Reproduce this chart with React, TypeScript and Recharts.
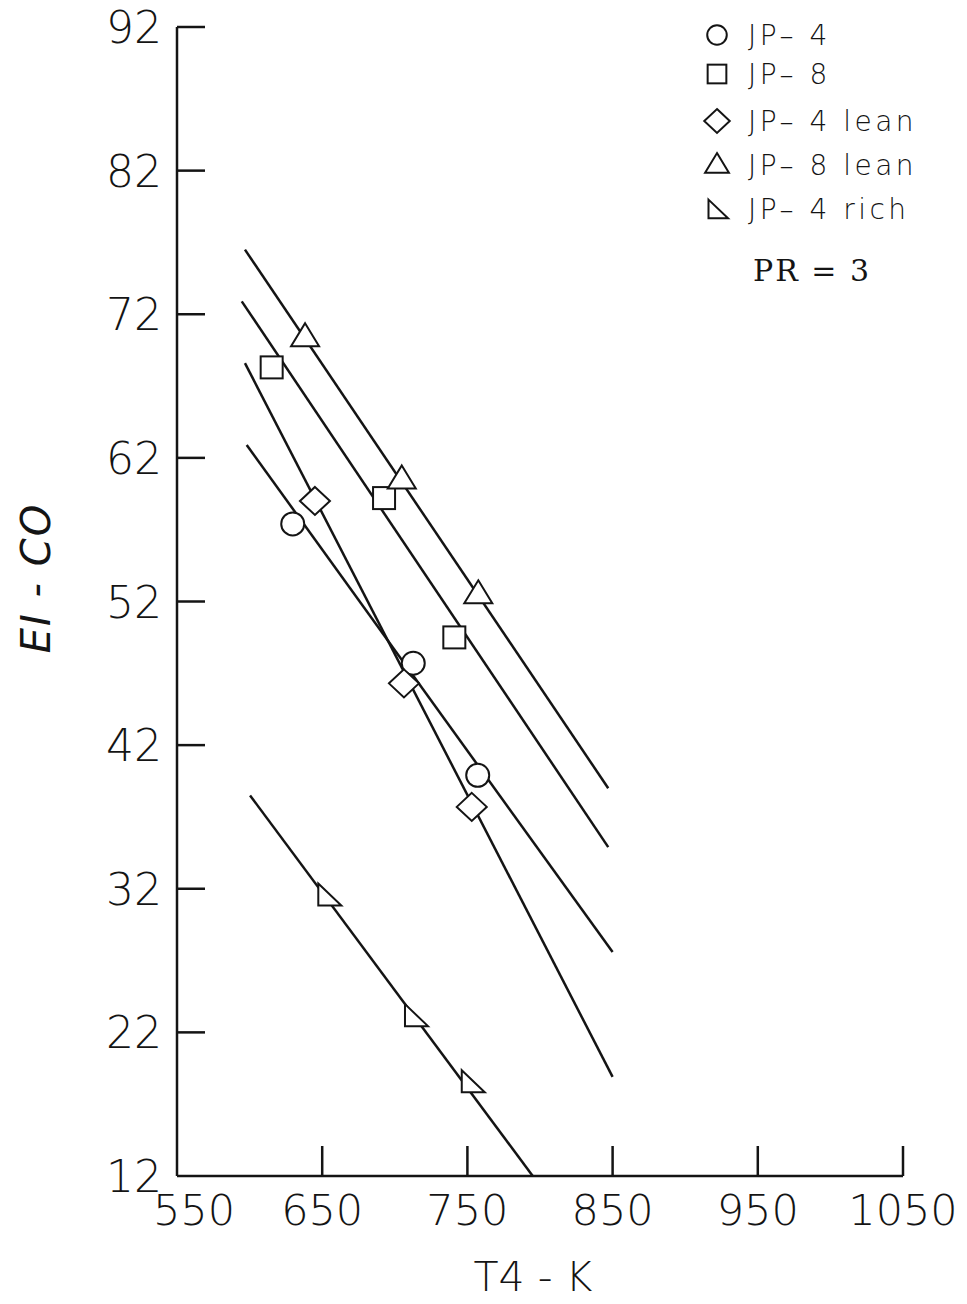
import React from 'react'
import { ComposedChart, Line, Scatter, XAxis, YAxis, Legend, Label } from 'recharts'

const INK = '#141414'
const FONT = "'DejaVu Sans', 'Liberation Sans', sans-serif"

const xTicks = [550, 650, 750, 850, 950, 1050]
const yTicks = [12, 22, 32, 42, 52, 62, 72, 82, 92]

// measured EI-CO values
const jp4 = [
  { x: 629.7, y: 57.4 },
  { x: 712.7, y: 47.7 },
  { x: 757.1, y: 39.9 },
]
const jp8 = [
  { x: 615.2, y: 68.3 },
  { x: 692.6, y: 59.2 },
  { x: 741, y: 49.5 },
]
const jp4Lean = [
  { x: 645, y: 59.0 },
  { x: 706.3, y: 46.3 },
  { x: 753, y: 37.7 },
]
const jp8Lean = [
  { x: 638.2, y: 70.4 },
  { x: 704.8, y: 60.5 },
  { x: 757.5, y: 52.5 },
]
const jp4Rich = [
  { x: 654.2, y: 31.6 },
  { x: 713.9, y: 23.2 },
  { x: 753, y: 18.6 },
]

// straight-line fits, start and end points
const jp4Fit = [{ x: 598, y: 62.9 }, { x: 850, y: 27.6 }]
const jp8Fit = [{ x: 594.6, y: 72.9 }, { x: 847, y: 34.9 }]
const jp4LeanFit = [{ x: 596.8, y: 68.6 }, { x: 850, y: 18.9 }]
const jp8LeanFit = [{ x: 596.8, y: 76.5 }, { x: 847, y: 39.0 }]
const jp4RichFit = [{ x: 600.3, y: 38.5 }, { x: 795, y: 12 }]

type Kind = 'circle' | 'square' | 'diamond' | 'triangle' | 'corner'

const series: { name: string; kind: Kind; points: { x: number; y: number }[]; fit: { x: number; y: number }[] }[] = [
  { name: 'JP– 4', kind: 'circle', points: jp4, fit: jp4Fit },
  { name: 'JP– 8', kind: 'square', points: jp8, fit: jp8Fit },
  { name: 'JP– 4 lean', kind: 'diamond', points: jp4Lean, fit: jp4LeanFit },
  { name: 'JP– 8 lean', kind: 'triangle', points: jp8Lean, fit: jp8LeanFit },
  { name: 'JP– 4 rich', kind: 'corner', points: jp4Rich, fit: jp4RichFit },
]

const note = 'PR = 3'

function Marker({ kind, cx, cy, k = 1 }: { kind: Kind; cx: number; cy: number; k?: number }) {
  const s = { fill: '#fff', stroke: INK, strokeWidth: 2 }
  const p = (pts: number[][]) => pts.map(([a, b]) => `${cx + a * k},${cy + b * k}`).join(' ')
  switch (kind) {
    case 'circle':
      return <circle cx={cx} cy={cy} r={11.5 * k} {...s} />
    case 'square':
      return <rect x={cx - 11 * k} y={cy - 11 * k} width={22 * k} height={22 * k} {...s} />
    case 'diamond':
      return <polygon points={p([[0, -14], [15, 0], [0, 14], [-15, 0]])} {...s} />
    case 'triangle':
      return <polygon points={p([[0, -14], [14, 9], [-14, 9]])} {...s} />
    default:
      return <polygon points={p([[-10, -11], [13, 11], [-10, 11]])} {...s} />
  }
}

const YTick = ({ x, y, payload }: any) => (
  <g>
    {payload.value !== 12 && (
      <line x1={x} x2={x + 28} y1={y} y2={y} stroke={INK} strokeWidth={2.5} />
    )}
    <text x={x - 15} y={y + 16} textAnchor="end" fontSize={44} fontWeight={300} fontFamily={FONT} fill={INK}>
      {payload.value}
    </text>
  </g>
)

const XTick = ({ x, y, payload }: any) => (
  <g>
    {payload.value !== 550 && (
      <line x1={x} x2={x} y1={y} y2={y - 30} stroke={INK} strokeWidth={2.5} />
    )}
    <text
      x={x + (payload.value === 550 ? 17 : 0)}
      y={y + 49}
      textAnchor="middle"
      fontSize={43}
      fontWeight={300}
      fontFamily={FONT}
      fill={INK}
    >
      {payload.value}
    </text>
  </g>
)

const rowY = [25, 64, 111, 155, 199]

function Key() {
  return (
    <svg width={260} height={290}>
      {series.map((s, i) => (
        <g key={s.name}>
          <Marker kind={s.kind} cx={17} cy={rowY[i]} k={0.85} />
          <text
            x={48}
            y={rowY[i] + 10}
            fontSize={28}
            fontWeight={300}
            letterSpacing={3.5}
            fontFamily={FONT}
            fill={INK}
          >
            {s.name}
          </text>
        </g>
      ))}
      <text
        x={53}
        y={271}
        fontSize={30}
        letterSpacing={2}
        fontFamily="'DejaVu Serif', 'Liberation Serif', serif"
        fill={INK}
      >
        {note}
      </text>
    </svg>
  )
}

export default function App() {
  return (
    <div style={{ position: 'relative', width: 967, height: 1304, margin: '-8px 0 -8px -8px' }}>
      <ComposedChart width={967} height={1304} margin={{ top: 27, right: 64, bottom: 48, left: 77 }}>
        <XAxis
          type="number"
          dataKey="x"
          domain={[550, 1050]}
          ticks={xTicks}
          height={80}
          tickSize={0}
          tickMargin={0}
          tickLine={false}
          tick={<XTick />}
          axisLine={{ stroke: INK, strokeWidth: 2.5 }}
          allowDataOverflow
        >
          <Label
            content={() => (
              <text x={533} y={1291} textAnchor="middle" fontSize={41} fontWeight={300} fontFamily={FONT} fill={INK}>
                T4 - K
              </text>
            )}
          />
        </XAxis>
        <YAxis
          type="number"
          dataKey="y"
          domain={[12, 92]}
          ticks={yTicks}
          width={100}
          tickSize={0}
          tickMargin={0}
          tickLine={false}
          tick={<YTick />}
          axisLine={{ stroke: INK, strokeWidth: 2.5 }}
          allowDataOverflow
        >
          <Label
            content={() => (
              <text
                transform="rotate(-90)"
                x={-578}
                y={50}
                textAnchor="middle"
                fontSize={40}
                fontStyle="italic"
                fontWeight={400}
                letterSpacing={2}
                fontFamily={FONT}
                fill={INK}
              >
                EI - CO
              </text>
            )}
          />
        </YAxis>
        {series.map((s) => (
          <Line
            key={s.name + '-fit'}
            data={s.fit}
            dataKey="y"
            type="linear"
            stroke={INK}
            strokeWidth={2.5}
            dot={false}
            activeDot={false}
            isAnimationActive={false}
          />
        ))}
        {series.map((s) => (
          <Scatter
            key={s.name}
            name={s.name}
            data={s.points}
            dataKey="y"
            isAnimationActive={false}
            shape={(p: any) => <Marker kind={s.kind} cx={p.cx} cy={p.cy} />}
          />
        ))}
        <Legend
          layout="vertical"
          align="center"
          verticalAlign="middle"
          wrapperStyle={{ top: 10, left: 700, width: 260 }}
          content={() => <Key />}
        />
      </ComposedChart>
    </div>
  )
}
